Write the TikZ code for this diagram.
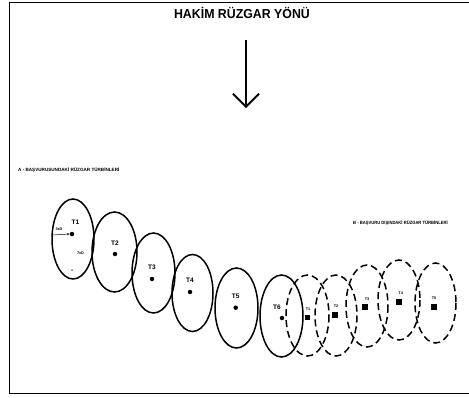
\documentclass[tikz,border=0pt]{standalone}
\usepackage{fontspec}
\setmainfont{Liberation Sans}
\usetikzlibrary{arrows.meta}
\begin{document}
\begin{tikzpicture}[x=1pt,y=-1pt,
  turbA/.style={draw=black,line width=1.5pt},
  turbB/.style={draw=black,line width=1.5pt,dash pattern=on 7pt off 4pt},
  lbl/.style={font=\bfseries\fontsize{6.5}{6.5}\selectfont,inner sep=0pt},
  tiny/.style={font=\bfseries\fontsize{3.8}{3.8}\selectfont,inner sep=0pt},
  grplabel/.style={font=\bfseries\fontsize{4.6}{4.6}\selectfont,inner sep=0pt,anchor=west},
  hub/.style={circle,fill=black,inner sep=0pt,minimum size=4.5pt},
  sq/.style={rectangle,fill=black,inner sep=0pt,minimum size=5.5pt}]
\useasboundingbox (0,0) rectangle (469,397);
\fill[white] (0,0) rectangle (469,397);
% frame
\draw[line width=1pt] (469,2) -- (9,2) -- (9,393) -- (469,393);
% title and arrow
\node[font=\bfseries\fontsize{13}{13}\selectfont,inner sep=0pt,xscale=0.95] (title) at (242,13) {HAKİM RÜZGAR YÖNÜ};
\coordinate (atop) at (246,40);
\coordinate (abot) at (246,108);
\draw[line width=1.8pt,-{Straight Barb[length=13pt,width=26pt,line width=1.8pt]}] (atop) -- (abot);
% group labels
\node[grplabel] (labA) at (18,170) {A - BAŞVURUSUNDAKİ RÜZGAR TÜRBİNLERİ};
\node[grplabel,xscale=0.9] (labB) at (353,223) {B - BAŞVURU DIŞINDAKİ RÜZGAR TÜRBİNLERİ};
% A turbines (solid)
\draw[turbA] (73,239) ellipse (21 and 40);
\draw[turbA] (114.5,252) ellipse (22.5 and 40);
\draw[turbA] (153.5,273) ellipse (21.5 and 40);
\draw[turbA] (192.5,293) ellipse (20.5 and 38.5);
\draw[turbA] (236.5,308) ellipse (21.5 and 40);
\draw[turbA] (281.5,316) ellipse (21.5 and 41);
% B turbines (dashed)
\draw[turbB] (307.5,315.5) ellipse (21.5 and 40.5);
\draw[turbB] (336,315.5) ellipse (21 and 40.5);
\draw[turbB] (367,306) ellipse (21 and 41);
\draw[turbB] (399,300) ellipse (21 and 40);
\draw[turbB] (435.5,303) ellipse (20.5 and 40);
% A hubs
\node[hub] (a1) at (72,234) {};
\node[hub] (a2) at (115,254) {};
\node[hub] (a3) at (152,279) {};
\node[hub] (a4) at (190,292) {};
\node[hub] (a5) at (235.7,307.7) {};
\node[hub] (a6) at (282,318) {};
\node[lbl] (ta1) at (75.5,222.5) {T1};
\node[lbl] (ta2) at (115,243) {T2};
\node[lbl] (ta3) at (152,267) {T3};
\node[lbl] (ta4) at (190,280) {T4};
\node[lbl] (ta5) at (235.7,296) {T5};
\node[lbl] (ta6) at (277,307) {T6};
% spacing annotation
\node[tiny] (d3) at (59,229.5) {3xD};
\node[tiny] (d7) at (80.5,253) {7xD};
\coordinate (s3) at (52.5,235);
\draw[line width=0.5pt,-{Stealth[length=2.5pt,width=2pt]}] (s3) -- (a1.west);
\node[circle,fill=black,inner sep=0pt,minimum size=1.5pt] (dotlow) at (72,270) {};
% B hubs
\node[sq] (b1) at (307.7,317.7) {};
\node[sq] (b2) at (335,315) {};
\node[sq] (b3) at (365,307) {};
\node[sq] (b4) at (399,302) {};
\node[sq] (b5) at (434,307) {};
\node[tiny] (tb1) at (308,309) {T1};
\node[tiny] (tb2) at (336,306) {T2};
\node[tiny] (tb3) at (367,299) {T3};
\node[tiny] (tb4) at (400.7,293) {T4};
\node[tiny] (tb5) at (434,298) {T5};
\end{tikzpicture}
\end{document}
